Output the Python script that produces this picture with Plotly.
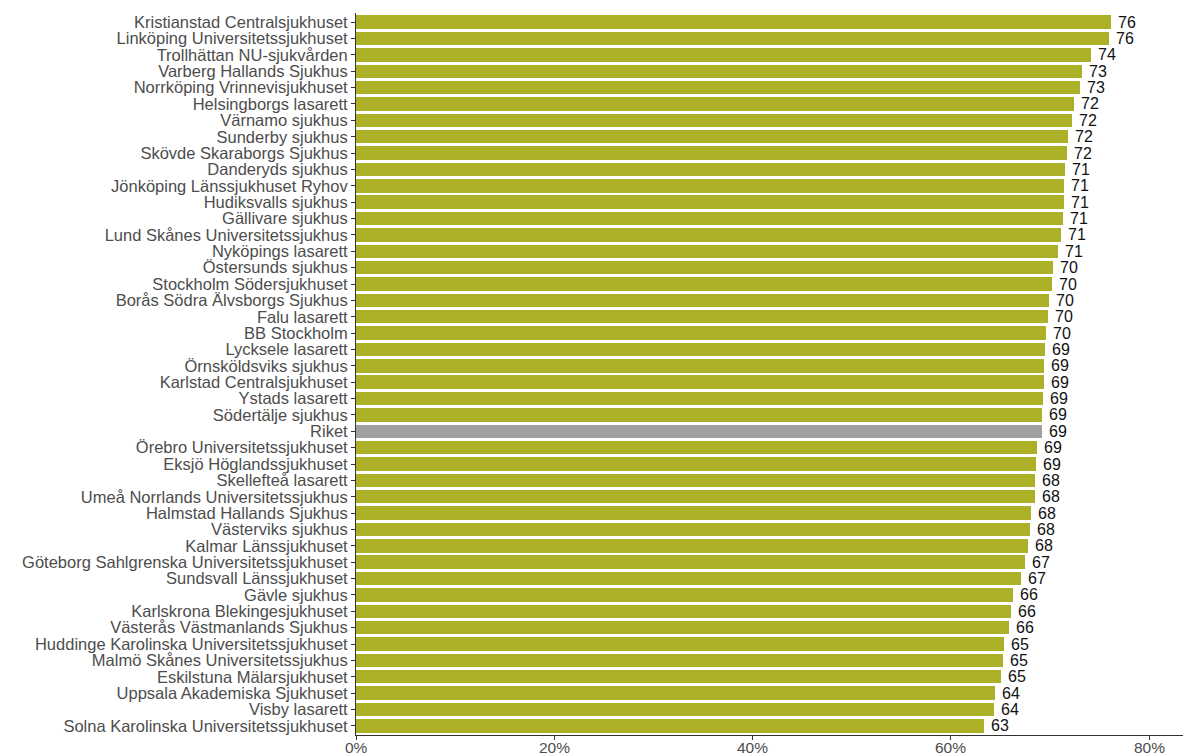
import plotly.graph_objects as go

hospitals = [
    "Kristianstad Centralsjukhuset", "Linköping Universitetssjukhuset", "Trollhättan NU-sjukvården",
    "Varberg Hallands Sjukhus", "Norrköping Vrinnevisjukhuset", "Helsingborgs lasarett",
    "Värnamo sjukhus", "Sunderby sjukhus", "Skövde Skaraborgs Sjukhus", "Danderyds sjukhus",
    "Jönköping Länssjukhuset Ryhov", "Hudiksvalls sjukhus", "Gällivare sjukhus",
    "Lund Skånes Universitetssjukhus", "Nyköpings lasarett", "Östersunds sjukhus",
    "Stockholm Södersjukhuset", "Borås Södra Älvsborgs Sjukhus", "Falu lasarett", "BB Stockholm",
    "Lycksele lasarett", "Örnsköldsviks sjukhus", "Karlstad Centralsjukhuset", "Ystads lasarett",
    "Södertälje sjukhus", "Riket", "Örebro Universitetssjukhuset", "Eksjö Höglandssjukhuset",
    "Skellefteå lasarett", "Umeå Norrlands Universitetssjukhus", "Halmstad Hallands Sjukhus",
    "Västerviks sjukhus", "Kalmar Länssjukhuset", "Göteborg Sahlgrenska Universitetssjukhuset",
    "Sundsvall Länssjukhuset", "Gävle sjukhus", "Karlskrona Blekingesjukhuset",
    "Västerås Västmanlands Sjukhus", "Huddinge Karolinska Universitetssjukhuset",
    "Malmö Skånes Universitetssjukhus", "Eskilstuna Mälarsjukhuset", "Uppsala Akademiska Sjukhuset",
    "Visby lasarett", "Solna Karolinska Universitetssjukhuset",
]
values = [
    76.10, 75.90, 74.08, 73.17, 72.97, 72.37, 72.16, 71.76, 71.66, 71.46,
    71.44, 71.36, 71.34, 71.06, 70.75, 70.25, 70.15, 69.85, 69.75, 69.54,
    69.44, 69.43, 69.42, 69.24, 69.23, 69.14, 68.64, 68.62, 68.45, 68.43,
    68.03, 68.02, 67.72, 67.42, 67.02, 66.22, 66.02, 65.82, 65.31, 65.21,
    65.00, 64.45, 64.30, 63.30,
]
x_ticks = [0, 20, 40, 60, 80]
x_tick_labels = ["0%", "20%", "40%", "60%", "80%"]

BAR = "#ABB026"
NATIONAL = "#A0A0A0"
colors = [NATIONAL if h == "Riket" else BAR for h in hospitals]

# bottom-to-top order for plotly
cats = hospitals[::-1]
vals = values[::-1]
cols = colors[::-1]

FONT = "Liberation Sans, Arial, Helvetica, sans-serif"

fig = go.Figure(go.Bar(
    x=vals, y=cats, orientation="h", marker=dict(color=cols, line=dict(width=0)),
    width=0.82, hoverinfo="skip",
))

for c, v in zip(cats, vals):
    fig.add_annotation(x=v, y=c, text=str(int(round(v))), showarrow=False,
                       xanchor="left", yanchor="middle", xshift=5,
                       font=dict(family=FONT, size=16, color="#111111"))

# x tick labels placed just under the axis line
for t, lab in zip(x_ticks, x_tick_labels):
    fig.add_annotation(x=t, y=0, xref="x", yref="paper", text=lab, showarrow=False,
                       xanchor="center", yanchor="top", yshift=-3, borderpad=0,
                       font=dict(family=FONT, size=15.5, color="#4D4D4D"))

n = len(cats)
fig.update_layout(
    width=1183, height=756,
    margin=dict(l=356, r=0, t=13, b=21, autoexpand=False),
    paper_bgcolor="white", plot_bgcolor="white",
    font=dict(family=FONT, size=16, color="#4D4D4D"),
    showlegend=False,
    bargap=0,
    hovermode=False,
)
fig.update_xaxes(
    range=[0, 83.4], tickmode="array", tickvals=x_ticks, showticklabels=False,
    showgrid=False, zeroline=False, showline=True, linecolor="#333333", linewidth=1,
    ticks="outside", ticklen=4, tickcolor="#333333",
    automargin=False,
)
fig.update_yaxes(
    type="category", categoryorder="array", categoryarray=cats,
    tickmode="array", tickvals=cats, ticktext=cats,
    range=[-0.56, n - 1 + 0.56],
    showgrid=False, zeroline=False, showline=True, linecolor="#333333", linewidth=1,
    ticks="outside", ticklen=4, tickcolor="#333333", tickfont=dict(size=16.5, color="#4D4D4D"),
    automargin=False,
)

fig.write_html(
    "out.html",
    config={"displayModeBar": False, "staticPlot": True},
    post_script="document.body.style.margin='0';document.body.style.overflow='hidden';",
)
